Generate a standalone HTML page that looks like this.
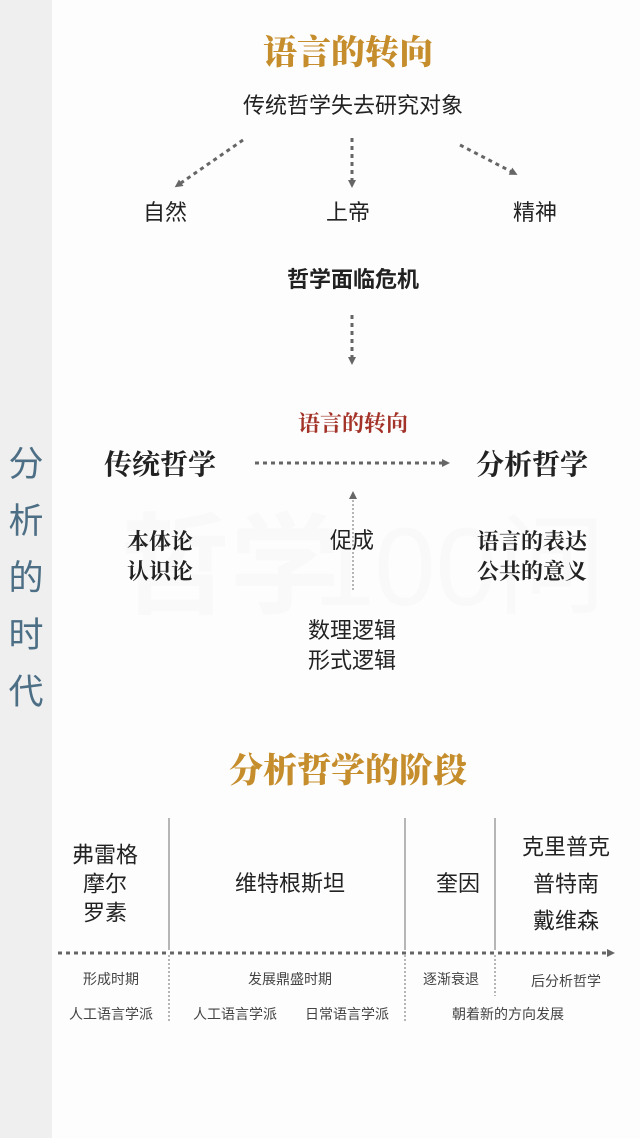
<!DOCTYPE html>
<html><head><meta charset="utf-8"><style>
body{margin:0;width:640px;height:1138px;background:#fdfdfd;position:relative;overflow:hidden;font-family:"Liberation Sans","Noto Sans CJK SC",sans-serif;color:#222}
.side{position:absolute;left:0;top:0;width:52px;height:1138px;background:#efefef}
.t{position:absolute;transform:translate(-50%,-50%);white-space:nowrap;line-height:1}
.gold{color:#c58d2c;font-family:"Noto Serif CJK SC",serif;font-weight:900;font-size:34px}
.vt{position:absolute;left:8px;top:436px;width:36px;font-size:35px;line-height:57px;color:#4d6f85;text-align:center}
</style></head><body>
<div class="side"></div>
<div class="vt">分<br>析<br>的<br>时<br>代</div>
<div class="t" style="left:230px;top:568px;font-size:110px;color:#f9f9f9;font-weight:bold">哲学</div>
<div class="t" style="left:460px;top:568px;font-size:110px;color:#f9f9f9">100问</div>

<div class="t gold" style="left:348px;top:50px">语言的转向</div>
<div class="t" style="left:353px;top:106px;font-size:22px">传统哲学失去研究对象</div>
<svg width="640" height="1138" style="position:absolute;left:0;top:0">
<defs><marker id="a" markerWidth="8" markerHeight="8" refX="4" refY="4" orient="auto" markerUnits="userSpaceOnUse"><path d="M0,0L8,4L0,8z" fill="#666"/></marker></defs>
<g stroke="#666" stroke-width="3" stroke-dasharray="4,4" fill="none">
<line x1="243" y1="140" x2="178" y2="185" marker-end="url(#a)"/>
<line x1="352" y1="138" x2="352" y2="184" marker-end="url(#a)"/>
<line x1="460" y1="145" x2="514" y2="173" marker-end="url(#a)"/>
<line x1="352" y1="315" x2="352" y2="361" marker-end="url(#a)"/>
<line x1="255" y1="463" x2="446" y2="463" marker-end="url(#a)"/>
<line x1="58" y1="953" x2="611" y2="953" marker-end="url(#a)"/>
</g>
<line x1="353" y1="590" x2="353" y2="495" stroke="#888" stroke-width="1.2" stroke-dasharray="2,2" marker-end="url(#a)"/>
<g stroke="#888" stroke-width="1.2">
<line x1="169" y1="818" x2="169" y2="950"/><line x1="405" y1="818" x2="405" y2="950"/><line x1="495" y1="818" x2="495" y2="950"/>
</g>
<g stroke="#888" stroke-width="1.2" stroke-dasharray="2,2">
<line x1="169" y1="955" x2="169" y2="1022"/><line x1="405" y1="955" x2="405" y2="1022"/><line x1="495" y1="955" x2="495" y2="996"/>
</g>
</svg>
<div class="t" style="left:165px;top:213px;font-size:22px">自然</div>
<div class="t" style="left:348px;top:213px;font-size:22px">上帝</div>
<div class="t" style="left:535px;top:213px;font-size:22px">精神</div>
<div class="t" style="left:353px;top:280px;font-size:22px;font-weight:bold">哲学面临危机</div>
<div class="t" style="left:353px;top:423px;font-size:22px;color:#a33328;font-family:'Noto Serif CJK SC',serif;font-weight:bold">语言的转向</div>
<div class="t" style="left:160px;top:463px;font-size:28px;font-family:'Noto Serif CJK SC',serif;font-weight:bold">传统哲学</div>
<div class="t" style="left:532px;top:463px;font-size:28px;font-family:'Noto Serif CJK SC',serif;font-weight:bold">分析哲学</div>
<div class="t" style="left:160px;top:556px;font-size:22px;font-weight:bold;line-height:30px;font-family:'Noto Serif CJK SC',serif">本体论<br>认识论</div>
<div class="t" style="left:352px;top:541px;font-size:22px">促成</div>
<div class="t" style="left:532px;top:556px;font-size:22px;font-weight:bold;line-height:30px;font-family:'Noto Serif CJK SC',serif">语言的表达<br>公共的意义</div>
<div class="t" style="left:352px;top:646px;font-size:22px;line-height:30px">数理逻辑<br>形式逻辑</div>
<div class="t gold" style="left:348px;top:768px">分析哲学的阶段</div>
<div class="t" style="left:105px;top:884px;font-size:22px;line-height:29px;text-align:center">弗雷格<br>摩尔<br>罗素</div>
<div class="t" style="left:290px;top:884px;font-size:22px">维特根斯坦</div>
<div class="t" style="left:458px;top:884px;font-size:22px">奎因</div>
<div class="t" style="left:566px;top:884px;font-size:22px;line-height:37px;text-align:center">克里普克<br>普特南<br>戴维森</div>
<div class="t" style="left:111px;top:979px;font-size:14px;color:#444">形成时期</div>
<div class="t" style="left:290px;top:979px;font-size:14px;color:#444">发展鼎盛时期</div>
<div class="t" style="left:451px;top:979px;font-size:14px;color:#444">逐渐衰退</div>
<div class="t" style="left:566px;top:981px;font-size:14px;color:#444">后分析哲学</div>
<div class="t" style="left:111px;top:1014px;font-size:14px;color:#444">人工语言学派</div>
<div class="t" style="left:235px;top:1014px;font-size:14px;color:#444">人工语言学派</div>
<div class="t" style="left:347px;top:1014px;font-size:14px;color:#444">日常语言学派</div>
<div class="t" style="left:508px;top:1014px;font-size:14px;color:#444">朝着新的方向发展</div>
</body></html>
